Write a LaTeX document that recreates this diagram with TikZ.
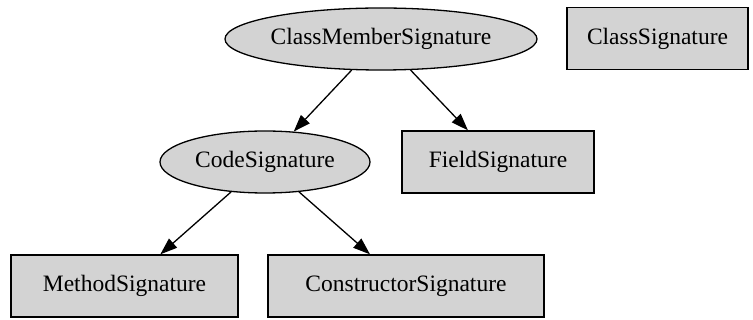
\documentclass[tikz,border=0pt]{standalone}
\usepackage{fontspec}
\setmainfont{Liberation Serif}
\usetikzlibrary{shapes.geometric,arrows.meta}
\definecolor{nodefill}{RGB}{211,211,211}
\tikzset{
  base/.style={draw=black, fill=nodefill, line width=1.3pt, inner sep=0pt,
    font=\fontsize{23.5}{28}\selectfont, minimum height=62pt},
  oval/.style={base, ellipse},
  box/.style={base, rectangle},
  link/.style={draw=black, line width=1.3pt, -{Triangle[length=17pt,width=12pt]}}
}
\begin{document}
\begin{tikzpicture}[x=1pt,y=-1pt]
  \useasboundingbox (0,0) rectangle (753,320);
  % top row
  \node[oval, minimum width=312pt] (cms) at (381,39) {ClassMemberSignature};
  \node[box, minimum width=181pt] (cls) at (657.5,38.5) {ClassSignature};
  % middle row
  \node[oval, minimum width=210pt] (code) at (265,162) {CodeSignature};
  \node[box, minimum width=192pt] (field) at (498,162) {FieldSignature};
  % bottom row
  \node[box, minimum width=227pt] (meth) at (124.5,286) {MethodSignature};
  \node[box, minimum width=276pt] (ctor) at (406,286) {ConstructorSignature};
  % inheritance edges
  \draw[link] (cms) -- (code);
  \draw[link] (cms) -- (field);
  \draw[link] (code) -- (meth);
  \draw[link] (code) -- (ctor);
\end{tikzpicture}
\end{document}
